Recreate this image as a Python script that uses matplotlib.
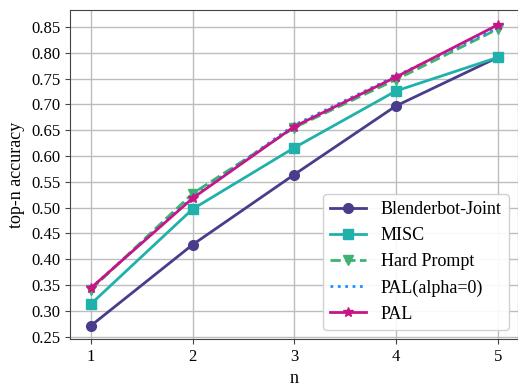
import matplotlib
matplotlib.use("Agg")
import matplotlib.pyplot as plt

plt.rcParams['font.family'] = ['Liberation Serif', 'DejaVu Serif']

n = [1, 2, 3, 4, 5]
blenderbot = [0.271, 0.428, 0.564, 0.697, 0.791]
misc = [0.313, 0.497, 0.616, 0.726, 0.791]
hard_prompt = [0.341, 0.527, 0.655, 0.748, 0.846]
pal_alpha0 = [0.344, 0.520, 0.660, 0.755, 0.848]
pal = [0.344, 0.518, 0.657, 0.753, 0.854]

fig = plt.figure(figsize=(5.18, 3.83), dpi=100)
ax = fig.add_axes([0.135, 0.115, 0.865, 0.859])

ax.plot(n, blenderbot, color='#483D8B', marker='o', markersize=7, lw=2, label='Blenderbot-Joint')
ax.plot(n, misc, color='#20B2AA', marker='s', markersize=7, lw=2, label='MISC')
ax.plot(n, hard_prompt, color='#3CB371', marker='v', markersize=7, lw=2, ls='--', label='Hard Prompt')
ax.plot(n, pal_alpha0, color='#1E90FF', lw=2, ls=':', label='PAL(alpha=0)')
ax.plot(n, pal, color='#C71585', marker='*', markersize=7, lw=2, label='PAL')

ax.set_xlim(0.795, 5.2)
ax.set_ylim(0.2455, 0.883)
ax.set_xticks(n)
ax.set_yticks([0.25 + 0.05 * i for i in range(13)])
ax.grid(True, color='#bdbdbd', lw=1)
ax.set_axisbelow(True)
for s in ax.spines.values():
    s.set_color('#444444')
ax.tick_params(labelsize=12, color='#444444')
ax.set_xlabel('n', fontsize=13)
ax.set_ylabel('top-n accuracy', fontsize=13)
ax.legend(loc='lower right', fontsize=13, handlelength=2.0, framealpha=0.9)

fig.savefig('out.png', dpi=100)
